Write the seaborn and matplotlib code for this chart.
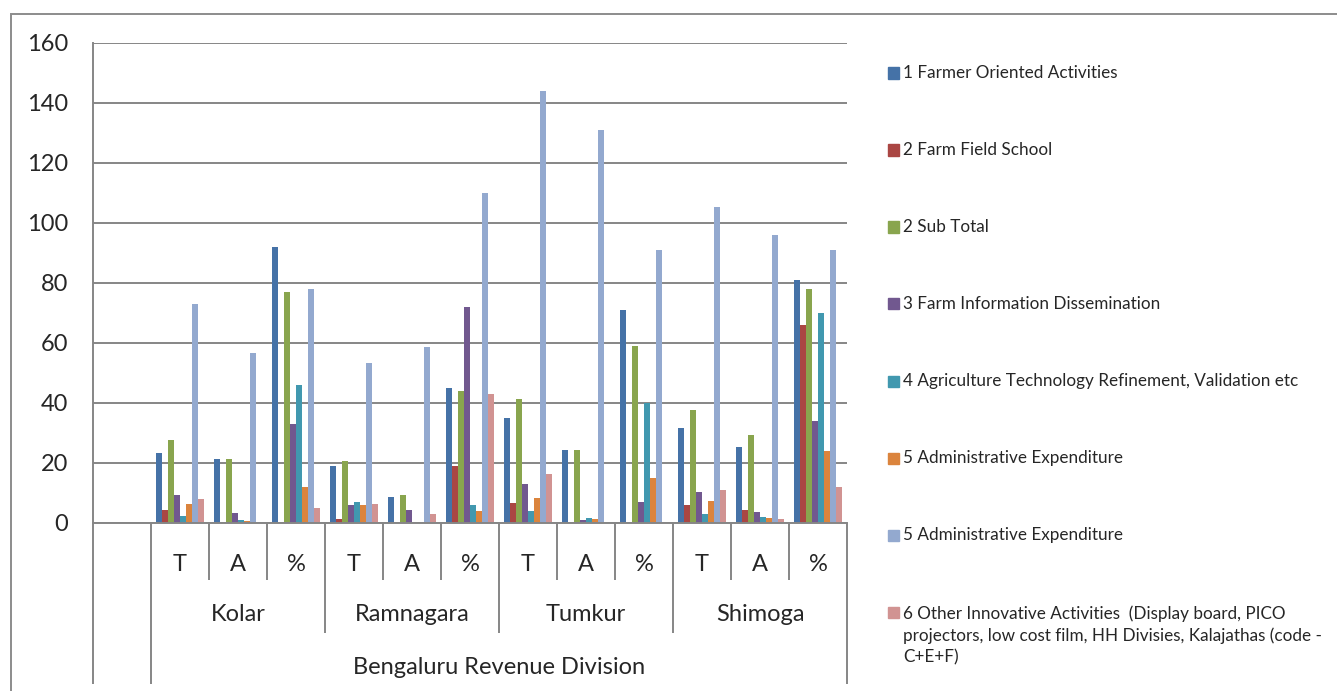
import matplotlib
matplotlib.use("Agg")
import matplotlib.pyplot as plt
import matplotlib.transforms as mtransforms
from matplotlib.patches import Rectangle
import pandas as pd
import seaborn as sns

# Chart data
districts = ["Kolar", "Ramnagara", "Tumkur", "Shimoga"]
measures = ["T", "A", "%"]
division = "Bengaluru Revenue Division"

series_labels = [
    "1 Farmer Oriented Activities",
    "2 Farm Field School",
    "2 Sub Total",
    "3 Farm Information Dissemination",
    "4 Agriculture Technology Refinement, Validation etc",
    "5 Administrative Expenditure",
    "5 Administrative Expenditure",
    "6 Other Innovative Activities  (Display board, PICO\nprojectors, low cost film, HH Divisies, Kalajathas (code -\nC+E+F)",
]
colors = ["#4572A7", "#AA4643", "#89A54E", "#71588F",
          "#4198AF", "#DB843D", "#93A9CF", "#D19392"]

# values per category: Kolar T/A/%, Ramnagara T/A/%, Tumkur T/A/%, Shimoga T/A/%
farmer_oriented = [23.2, 21.1, 92.0, 19.0, 8.7, 44.9, 34.8, 24.4, 70.9, 31.6, 25.4, 81.0]
farm_field_school = [4.4, 0, 0, 1.4, 0, 18.9, 6.7, 0, 0, 6.0, 4.1, 66.0]
sub_total = [27.6, 21.1, 76.9, 20.7, 9.1, 44.0, 41.4, 24.4, 58.9, 37.6, 29.4, 78.0]
farm_info = [9.4, 3.1, 32.9, 5.8, 4.3, 72.0, 12.8, 0.9, 7.0, 10.4, 3.7, 33.9]
tech_refinement = [2.2, 0.9, 45.8, 6.9, 0, 5.8, 3.8, 1.6, 40.0, 2.9, 2.0, 69.9]
admin_exp = [6.3, 0.7, 12.0, 5.9, 0, 3.9, 8.4, 1.2, 14.9, 7.3, 1.7, 23.9]
admin_exp_2 = [72.8, 56.7, 77.8, 53.1, 58.6, 110.0, 143.9, 130.8, 91.0, 105.2, 95.9, 91.0]
other_innovative = [7.8, 0, 4.9, 6.4, 2.9, 42.9, 16.4, 0, 0, 10.8, 1.2, 12.0]

all_series = [farmer_oriented, farm_field_school, sub_total, farm_info,
              tech_refinement, admin_exp, admin_exp_2, other_innovative]

# long table for seaborn; first slot on the axis stays empty
cat_keys = ["blank"] + [f"{d} {m}" for d in districts for m in measures]
series_keys = [f"s{i}" for i in range(len(all_series))]
rows = []
for key, values in zip(series_keys, all_series):
    for cat, v in zip(cat_keys[1:], values):
        rows.append({"cat": cat, "series": key, "value": v})
df = pd.DataFrame(rows)

W, H = 1337, 691
FONT = "Lato"
GRID = "#868686"

sns.set_style("white")
plt.rcParams["font.family"] = [FONT, "DejaVu Sans"]

fig = plt.figure(figsize=(W / 100, H / 100), dpi=100)
ax = fig.add_axes([93 / W, 1 - 522.7 / H, (847 - 93) / W, 480 / H])

sns.barplot(data=df, x="cat", y="value", hue="series", order=cat_keys,
            hue_order=series_keys, palette=dict(zip(series_keys, colors)),
            width=0.84, saturation=1, linewidth=0, errorbar=None,
            legend=False, ax=ax)

ax.set_xlim(-0.5, len(cat_keys) - 0.5)
ax.set_ylim(0, 160)
ax.set_yticks(range(0, 161, 20))
ax.yaxis.grid(True, color=GRID, linewidth=1.4)
ax.set_axisbelow(True)
ax.tick_params(axis="y", length=6, width=1.2, color=GRID, pad=12, labelsize=17)
ax.set_xticks([])
ax.set_xlabel("")
ax.set_ylabel("")
for side in ["top", "right"]:
    ax.spines[side].set_visible(False)
ax.spines["left"].set_color(GRID)
ax.spines["bottom"].set_color(GRID)
ax.spines["left"].set_linewidth(1.4)
ax.spines["bottom"].set_linewidth(1.4)

# multi level category axis
trans = mtransforms.blended_transform_factory(ax.transData, ax.transAxes)
short_end, group_end, full_end = -0.12, -0.23, -0.335
for i in range(len(cat_keys) + 1):
    b = i - 0.5
    if i in (0, 1, len(cat_keys)):
        end = full_end
    elif (i - 1) % 3 == 0:
        end = group_end
    else:
        end = short_end
    ax.plot([b, b], [0, end], transform=trans, color=GRID, lw=1.4,
            clip_on=False, solid_capstyle="butt")

for i, m in enumerate(measures * len(districts)):
    ax.text(i + 1, -0.088, m, transform=trans, ha="center", va="center", fontsize=17)
for k, d in enumerate(districts):
    ax.text(2 + 3 * k, -0.192, d, transform=trans, ha="center", va="center", fontsize=17)
ax.text(6.5, -0.301, division, transform=trans, ha="center", va="center", fontsize=17)

# legend drawn entry by entry so the swatch sits on the first text line
for i, (label, color) in enumerate(zip(series_labels, colors)):
    yc = 73 + i * 77
    fig.patches.append(Rectangle((888 / W, 1 - (yc + 5.5) / H), 11 / W, 11 / H,
                                 transform=fig.transFigure, color=color))
    if "\n" in label:
        fig.text(903 / W, 1 - (yc - 7) / H, label, ha="left", va="top",
                 fontsize=12.3, linespacing=1.42)
    else:
        fig.text(903 / W, 1 - yc / H, label, ha="left", va="center", fontsize=12.3)

# chart area border
fig.patches.append(Rectangle((11 / W, -0.1), 1.2, 1 - 14 / H + 0.1,
                             transform=fig.transFigure, fill=False,
                             edgecolor="#8c8c8c", linewidth=1.4))

fig.savefig("out.png", dpi=100)
